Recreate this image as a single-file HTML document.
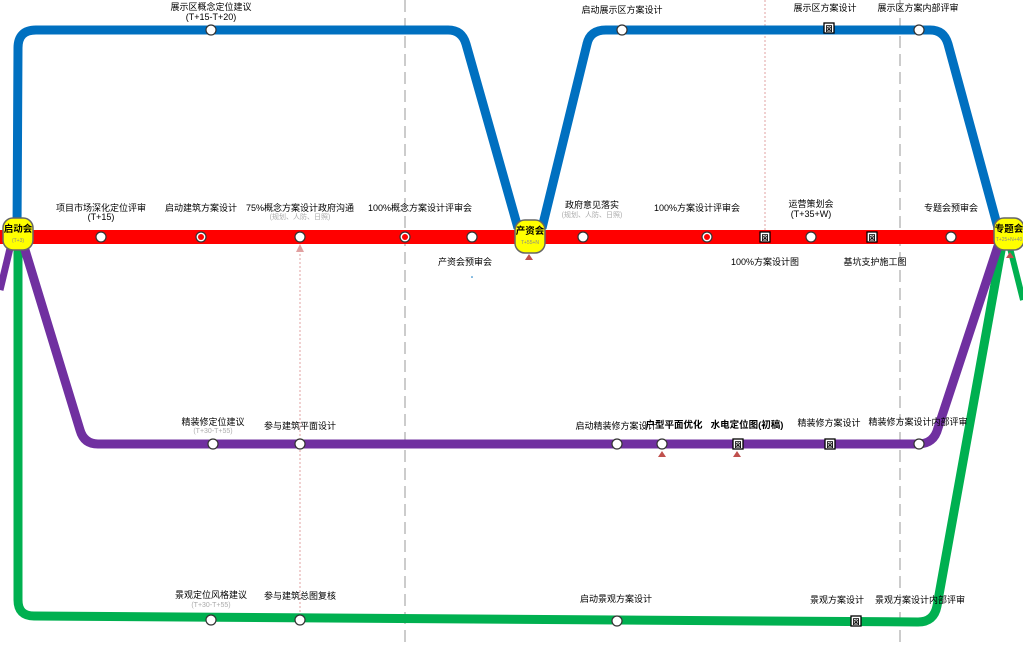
<!DOCTYPE html>
<html><head><meta charset="utf-8"><style>
body{margin:0;background:#fff;}
svg{display:block;font-family:"Liberation Sans","Noto Sans CJK SC",sans-serif;}
.t{font-size:9px;fill:#000;text-anchor:middle;}
.s{font-size:7px;fill:#aaa;text-anchor:middle;}
.b{font-size:9.5px;font-weight:bold;fill:#000;text-anchor:middle;}
</style></head><body>
<svg width="1023" height="645" viewBox="0 0 1023 645">
<line x1="405" y1="0" x2="405" y2="645" stroke="#bbb" stroke-width="1.5" stroke-dasharray="12,6"/>
<line x1="900" y1="0" x2="900" y2="645" stroke="#bbb" stroke-width="1.5" stroke-dasharray="12,6"/>
<line x1="765" y1="0" x2="765" y2="237" stroke="#e0a0a0" stroke-width="1" stroke-dasharray="2,2"/>
<line x1="300" y1="250" x2="300" y2="622" stroke="#e0a0a0" stroke-width="1" stroke-dasharray="2,2"/>
<polygon points="300,244 296,252 304,252" fill="#e0a0a0"/>
<!-- green -->
<path d="M18,240 L18,600 Q18,616 34,616 L918,622 Q934,622 937,606 L1002,245" fill="none" stroke="#00b050" stroke-width="9"/>
<path d="M1008,240 L1023,300" fill="none" stroke="#00b050" stroke-width="6"/>
<!-- purple -->
<path d="M22,240 L80,430 Q84,444 98,444 L918,444 Q934,444 938,428 L1000,240" fill="none" stroke="#7030a0" stroke-width="9"/>
<path d="M12,240 L0,290" fill="none" stroke="#7030a0" stroke-width="7"/>
<!-- blue -->
<path d="M17,232 L18,48 Q18,30 36,30 L448,30 Q462,30 466,44 L518,228" fill="none" stroke="#0070c0" stroke-width="9"/>
<path d="M542,228 L587,44 Q590,30 606,30 L930,30 Q944,30 948,44 L998,228" fill="none" stroke="#0070c0" stroke-width="9"/>
<!-- red -->
<rect x="0" y="230" width="1023" height="14" fill="#ff0000"/>
<!-- nodes -->
<g fill="#fff" stroke="#333" stroke-width="1.2">
<circle cx="211" cy="30" r="5"/><circle cx="622" cy="30" r="5"/><circle cx="919" cy="30" r="5"/>
<circle cx="101" cy="237" r="5"/><circle cx="201" cy="237" r="5"/><circle cx="300" cy="237" r="5"/><circle cx="405" cy="237" r="5"/><circle cx="472" cy="237" r="5"/>
<circle cx="583" cy="237" r="5"/><circle cx="707" cy="237" r="5"/><circle cx="811" cy="237" r="5"/><circle cx="951" cy="237" r="5"/>
<circle cx="213" cy="444" r="5"/><circle cx="300" cy="444" r="5"/><circle cx="617" cy="444" r="5"/><circle cx="662" cy="444" r="5"/><circle cx="919" cy="444" r="5"/>
<circle cx="211" cy="620" r="5"/><circle cx="300" cy="620" r="5"/><circle cx="617" cy="621" r="5"/>
</g>
<g fill="#ff0000"><circle cx="201" cy="237" r="3"/><circle cx="405" cy="237" r="3"/><circle cx="707" cy="237" r="3"/></g>
<g fill="#fff" stroke="#000" stroke-width="1.3">
<rect x="824" y="23" width="10" height="10"/><rect x="760" y="232" width="10" height="10"/><rect x="867" y="232" width="10" height="10"/>
<rect x="733" y="439" width="10" height="10"/><rect x="825" y="439" width="10" height="10"/><rect x="851" y="616" width="10" height="10"/>
</g>
<g font-size="7" text-anchor="middle" font-weight="bold"><text x="829" y="31">図</text><text x="765" y="240">図</text><text x="872" y="240">図</text><text x="738" y="447">図</text><text x="830" y="447">図</text><text x="856" y="624">図</text></g>
<g fill="#c0504d"><path d="M525,260 L529,254 L533,260Z"/><path d="M1006,258 L1010,252 L1014,258Z"/><path d="M658,457 L662,451 L666,457Z"/><path d="M733,457 L737,451 L741,457Z"/></g>
<!-- terminals -->
<g fill="#ffff00" stroke="#666" stroke-width="1.5">
<rect x="3" y="218" width="30" height="32" rx="10"/><rect x="515" y="220" width="30" height="33" rx="10"/><rect x="994" y="218" width="30" height="32" rx="10"/>
</g>
<text x="18" y="232" class="b">启动会</text><text x="18" y="242" class="s" style="font-size:5px;fill:#888">(T+3)</text>
<text x="530" y="234" class="b">产资会</text><text x="530" y="244" class="s" style="font-size:5px;fill:#888">T+55+N</text>
<text x="1009" y="232" class="b">专题会</text><text x="1009" y="241" class="s" style="font-size:5px;fill:#888">T+25+N+40</text>
<!-- labels -->
<text x="211" y="10" class="t">展示区概念定位建议</text><text x="211" y="20" class="t">(T+15-T+20)</text>
<text x="622" y="13" class="t">启动展示区方案设计</text>
<text x="825" y="11" class="t">展示区方案设计</text>
<text x="918" y="11" class="t">展示区方案内部评审</text>
<text x="101" y="211" class="t">项目市场深化定位评审</text><text x="101" y="220" class="t">(T+15)</text>
<text x="201" y="211" class="t">启动建筑方案设计</text>
<text x="300" y="211" class="t">75%概念方案设计政府沟通</text><text x="300" y="219" class="s">(规划、人防、日照)</text>
<text x="420" y="211" class="t">100%概念方案设计评审会</text>
<text x="465" y="265" class="t">产资会预审会</text>
<text x="592" y="208" class="t">政府意见落实</text><text x="592" y="217" class="s">(规划、人防、日照)</text>
<text x="697" y="211" class="t">100%方案设计评审会</text>
<text x="811" y="207" class="t">运营策划会</text><text x="811" y="217" class="t">(T+35+W)</text>
<text x="951" y="211" class="t">专题会预审会</text>
<text x="765" y="265" class="t">100%方案设计图</text>
<text x="875" y="265" class="t">基坑支护施工图</text>
<text x="213" y="425" class="t">精装修定位建议</text><text x="213" y="433" class="s">(T+30-T+55)</text>
<text x="300" y="429" class="t">参与建筑平面设计</text>
<text x="616" y="429" class="t">启动精装修方案设计</text>
<text x="674" y="428" class="b">户型平面优化</text>
<text x="747" y="428" class="b">水电定位图(初稿)</text>
<text x="829" y="426" class="t">精装修方案设计</text>
<text x="918" y="425" class="t">精装修方案设计内部评审</text>
<text x="211" y="598" class="t">景观定位风格建议</text><text x="211" y="607" class="s">(T+30-T+55)</text>
<text x="300" y="599" class="t">参与建筑总图复核</text>
<text x="616" y="602" class="t">启动景观方案设计</text>
<text x="837" y="603" class="t">景观方案设计</text>
<text x="920" y="603" class="t">景观方案设计内部评审</text>
<circle cx="472" cy="277" r="0.8" fill="#0070c0"/>
</svg>
</body></html>
